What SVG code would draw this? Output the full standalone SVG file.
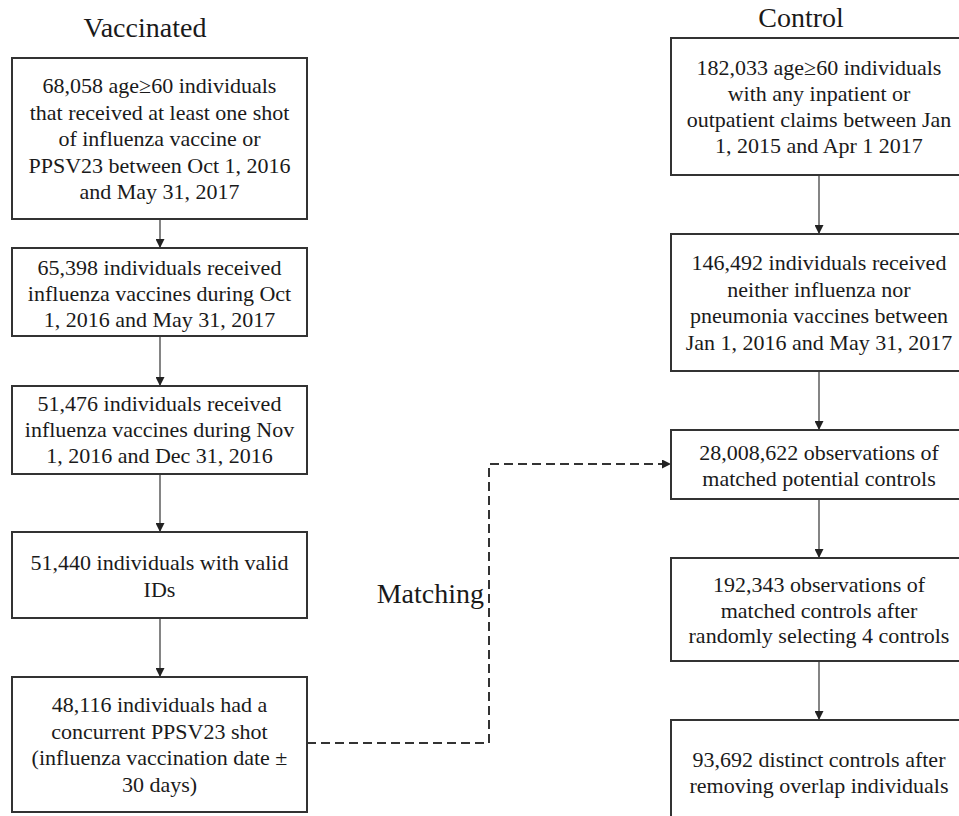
<svg xmlns="http://www.w3.org/2000/svg" width="959" height="816" viewBox="0 0 959 816">
<style>
.box{fill:#fff;stroke:#333;stroke-width:2}
.t{font-size:22px;fill:#1a1a1a;text-anchor:middle}
.title{font-size:28px;fill:#1a1a1a;text-anchor:middle}
.arr{stroke:#333;stroke-width:1.2;fill:none;marker-end:url(#ah)}
.dash{stroke:#333;stroke-width:2;fill:none;stroke-dasharray:9 5;marker-end:url(#ah)}
</style>
<defs>
<marker id="ah" viewBox="0 0 10 10" refX="10" refY="5" markerWidth="9" markerHeight="9" markerUnits="userSpaceOnUse" orient="auto">
<path d="M0,0 L10,5 L0,10 z" fill="#222"/>
</marker>
</defs>
<rect width="959" height="816" fill="#fff"/>
<g font-family="Liberation Serif, Times New Roman, serif">
<text class="title" x="145" y="37">Vaccinated</text>
<text class="title" x="801" y="27">Control</text>

<g id="connectors">
<line class="arr" x1="160" y1="219" x2="160" y2="248"/>
<line class="arr" x1="160" y1="336" x2="160" y2="386"/>
<line class="arr" x1="160" y1="474" x2="160" y2="532"/>
<line class="arr" x1="160" y1="618" x2="160" y2="677"/>
<line class="arr" x1="819" y1="175" x2="819" y2="234"/>
<line class="arr" x1="819" y1="371" x2="819" y2="430"/>
<line class="arr" x1="819" y1="499" x2="819" y2="558"/>
<line class="arr" x1="819" y1="661" x2="819" y2="720"/>
<path class="dash" d="M307,743 H489 V464 H671"/>
<text class="title" x="484" y="603" style="text-anchor:end">Matching</text>
</g>

<g id="v1">
<rect class="box" x="12" y="58" width="295" height="161"/>
<text class="t" x="159.5" y="93">68,058 age≥60 individuals</text>
<text class="t" x="159.5" y="119.5">that received at least one shot</text>
<text class="t" x="159.5" y="146">of influenza vaccine or</text>
<text class="t" x="159.5" y="172.5">PPSV23 between Oct 1, 2016</text>
<text class="t" x="159.5" y="199">and May 31, 2017</text>
</g>
<g id="v2">
<rect class="box" x="12" y="248" width="295" height="88"/>
<text class="t" x="159.5" y="275">65,398 individuals received</text>
<text class="t" x="159.5" y="301">influenza vaccines during Oct</text>
<text class="t" x="159.5" y="327">1, 2016 and May 31, 2017</text>
</g>
<g id="v3">
<rect class="box" x="12" y="386" width="295" height="88"/>
<text class="t" x="159.5" y="411">51,476 individuals received</text>
<text class="t" x="159.5" y="437">influenza vaccines during Nov</text>
<text class="t" x="159.5" y="463">1, 2016 and Dec 31, 2016</text>
</g>
<g id="v4">
<rect class="box" x="12" y="532" width="295" height="86"/>
<text class="t" x="159.5" y="570">51,440 individuals with valid</text>
<text class="t" x="159.5" y="597">IDs</text>
</g>
<g id="v5">
<rect class="box" x="12" y="677" width="295" height="135"/>
<text class="t" x="159.5" y="712">48,116 individuals had a</text>
<text class="t" x="159.5" y="738.5">concurrent PPSV23 shot</text>
<text class="t" x="159.5" y="765">(influenza vaccination date ±</text>
<text class="t" x="159.5" y="791.5">30 days)</text>
</g>

<g id="c1">
<rect class="box" x="671" y="38" width="300" height="137"/>
<text class="t" x="819" y="75">182,033 age≥60 individuals</text>
<text class="t" x="819" y="101">with any inpatient or</text>
<text class="t" x="819" y="127">outpatient claims between Jan</text>
<text class="t" x="819" y="153">1, 2015 and Apr 1 2017</text>
</g>
<g id="c2">
<rect class="box" x="671" y="234" width="300" height="137"/>
<text class="t" x="819" y="270">146,492 individuals received</text>
<text class="t" x="819" y="296.5">neither influenza nor</text>
<text class="t" x="819" y="323">pneumonia vaccines between</text>
<text class="t" x="819" y="349.5">Jan 1, 2016 and May 31, 2017</text>
</g>
<g id="c3">
<rect class="box" x="671" y="430" width="300" height="69"/>
<text class="t" x="819" y="460">28,008,622 observations of</text>
<text class="t" x="819" y="486">matched potential controls</text>
</g>
<g id="c4">
<rect class="box" x="671" y="558" width="300" height="103"/>
<text class="t" x="819" y="592">192,343 observations of</text>
<text class="t" x="819" y="617.5">matched controls after</text>
<text class="t" x="819" y="643">randomly selecting 4 controls</text>
</g>
<g id="c5">
<rect class="box" x="671" y="720" width="300" height="110"/>
<text class="t" x="819" y="767">93,692 distinct controls after</text>
<text class="t" x="819" y="793">removing overlap individuals</text>
</g>
</g>
</svg>
